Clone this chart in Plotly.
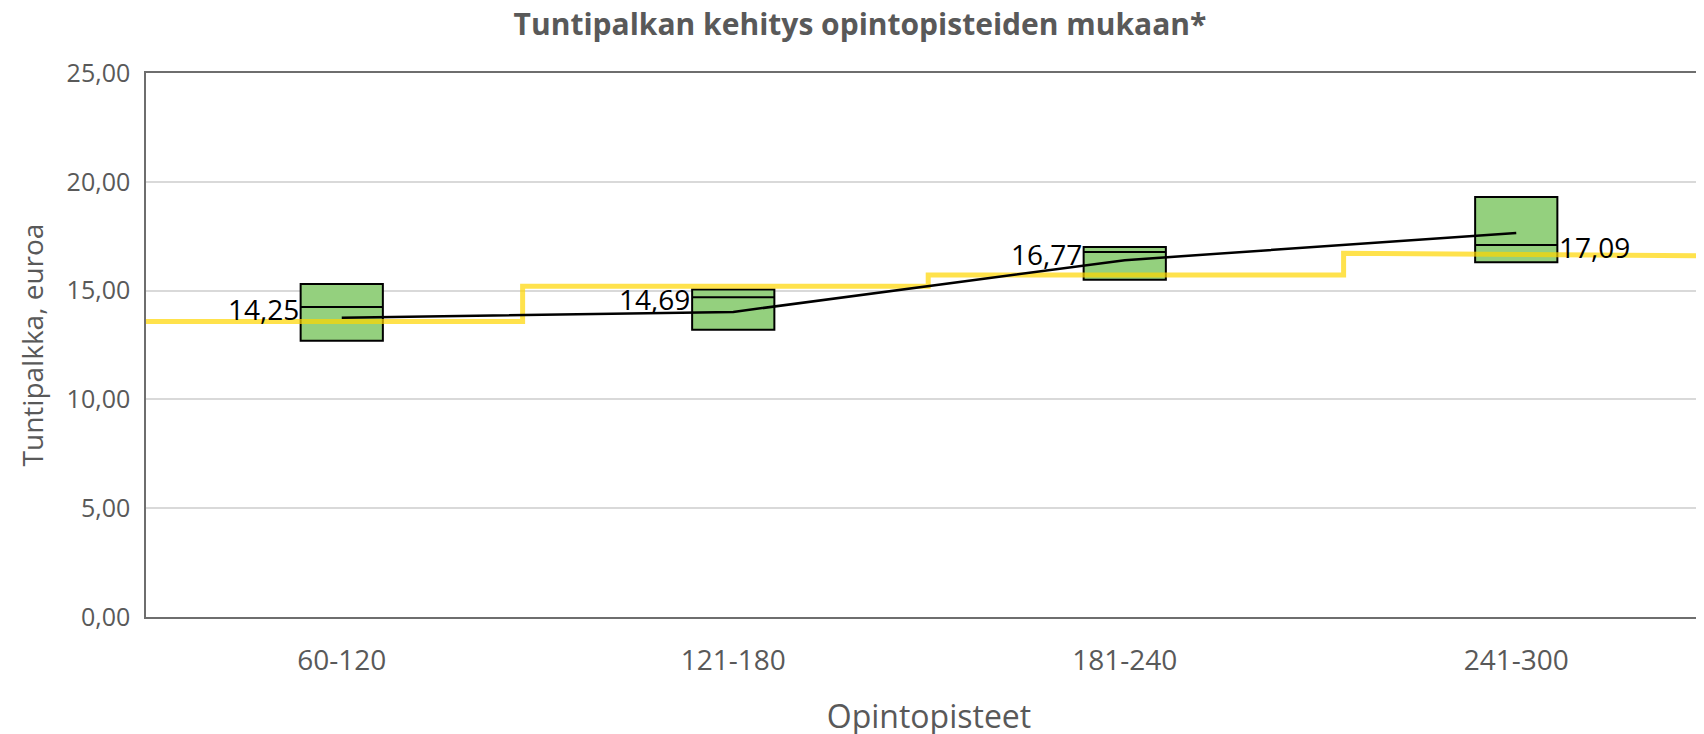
import plotly.graph_objects as go

# ---- data ----
categories = ["60-120", "121-180", "181-240", "241-300"]
q1 = [12.70, 13.20, 15.50, 16.30]
median = [14.25, 14.69, 16.77, 17.09]
q3 = [15.30, 15.05, 17.00, 19.30]
median_labels = ["14,25", "14,69", "16,77", "17,09"]

trend = [13.75, 14.02, 16.40, 17.65]

# yellow step line (x in category units)
step_x = [-0.5, 0.462, 0.462, 1.498, 1.498, 2.559, 2.559, 3.5]
step_y = [13.58, 13.58, 15.20, 15.20, 15.72, 15.72, 16.72, 16.60]

y_ticks = [0, 5, 10, 15, 20, 25]
y_ticktext = ["0,00", "5,00", "10,00", "15,00", "20,00", "25,00"]

TEXT = "#595959"
FONT = "Open Sans"

xs = list(range(len(categories)))

fig = go.Figure()

fig.add_trace(go.Box(
    x=xs, q1=q1, median=median, q3=q3,
    lowerfence=q1, upperfence=q3,
    width=0.21, whiskerwidth=0,
    fillcolor="#94D07E",
    line=dict(color="black", width=2),
    hoverinfo="skip", showlegend=False,
))

fig.add_trace(go.Scatter(
    x=step_x, y=step_y, mode="lines",
    line=dict(color="rgba(255, 214, 0, 0.7)", width=5),
    hoverinfo="skip", showlegend=False,
))

fig.add_trace(go.Scatter(
    x=xs, y=trend, mode="lines",
    line=dict(color="black", width=2.5),
    hoverinfo="skip", showlegend=False,
))

# median labels: left of the box, last one on the right
for i, (m, lab) in enumerate(zip(median, median_labels)):
    right = i == len(median) - 1
    fig.add_annotation(
        x=xs[i], y=m, text=lab, showarrow=False,
        xanchor="left" if right else "right",
        xshift=41 if right else -41, yshift=-2,
        font=dict(family=FONT, size=28, color="black"),
    )

fig.update_layout(
    width=1704, height=734,
    margin=dict(l=138, r=0, t=65, b=125),
    paper_bgcolor="white", plot_bgcolor="white",
    font=dict(family=FONT, color=TEXT),
    title=dict(
        text="<b>Tuntipalkan kehitys opintopisteiden mukaan*</b>",
        x=0.5, xref="container", xanchor="center",
        y=0.978, yref="container", yanchor="middle",
        font=dict(family=FONT, size=30, color=TEXT),
    ),
    showlegend=False,
)

fig.update_xaxes(
    range=[-0.5, 3.5],
    tickvals=xs, ticktext=categories,
    tickfont=dict(family=FONT, size=28, color=TEXT),
    ticklabelstandoff=18,
    showgrid=False, zeroline=False,
    showline=True, linecolor="#6E6E6E", linewidth=1.5, mirror=True,
    ticks="",
    title=dict(text="Opintopisteet", standoff=28,
               font=dict(family=FONT, size=32, color=TEXT)),
)

fig.update_yaxes(
    range=[0, 25],
    tickvals=y_ticks, ticktext=y_ticktext,
    tickfont=dict(family=FONT, size=25, color=TEXT),
    ticklabelstandoff=9,
    showgrid=True, gridcolor="#D9D9D9", gridwidth=1.5,
    zeroline=False,
    showline=True, linecolor="#6E6E6E", linewidth=1.5,
    ticks="",
    title=dict(text="Tuntipalkka, euroa", standoff=15,
               font=dict(family=FONT, size=28, color=TEXT)),
)

fig.write_html("out.html")
